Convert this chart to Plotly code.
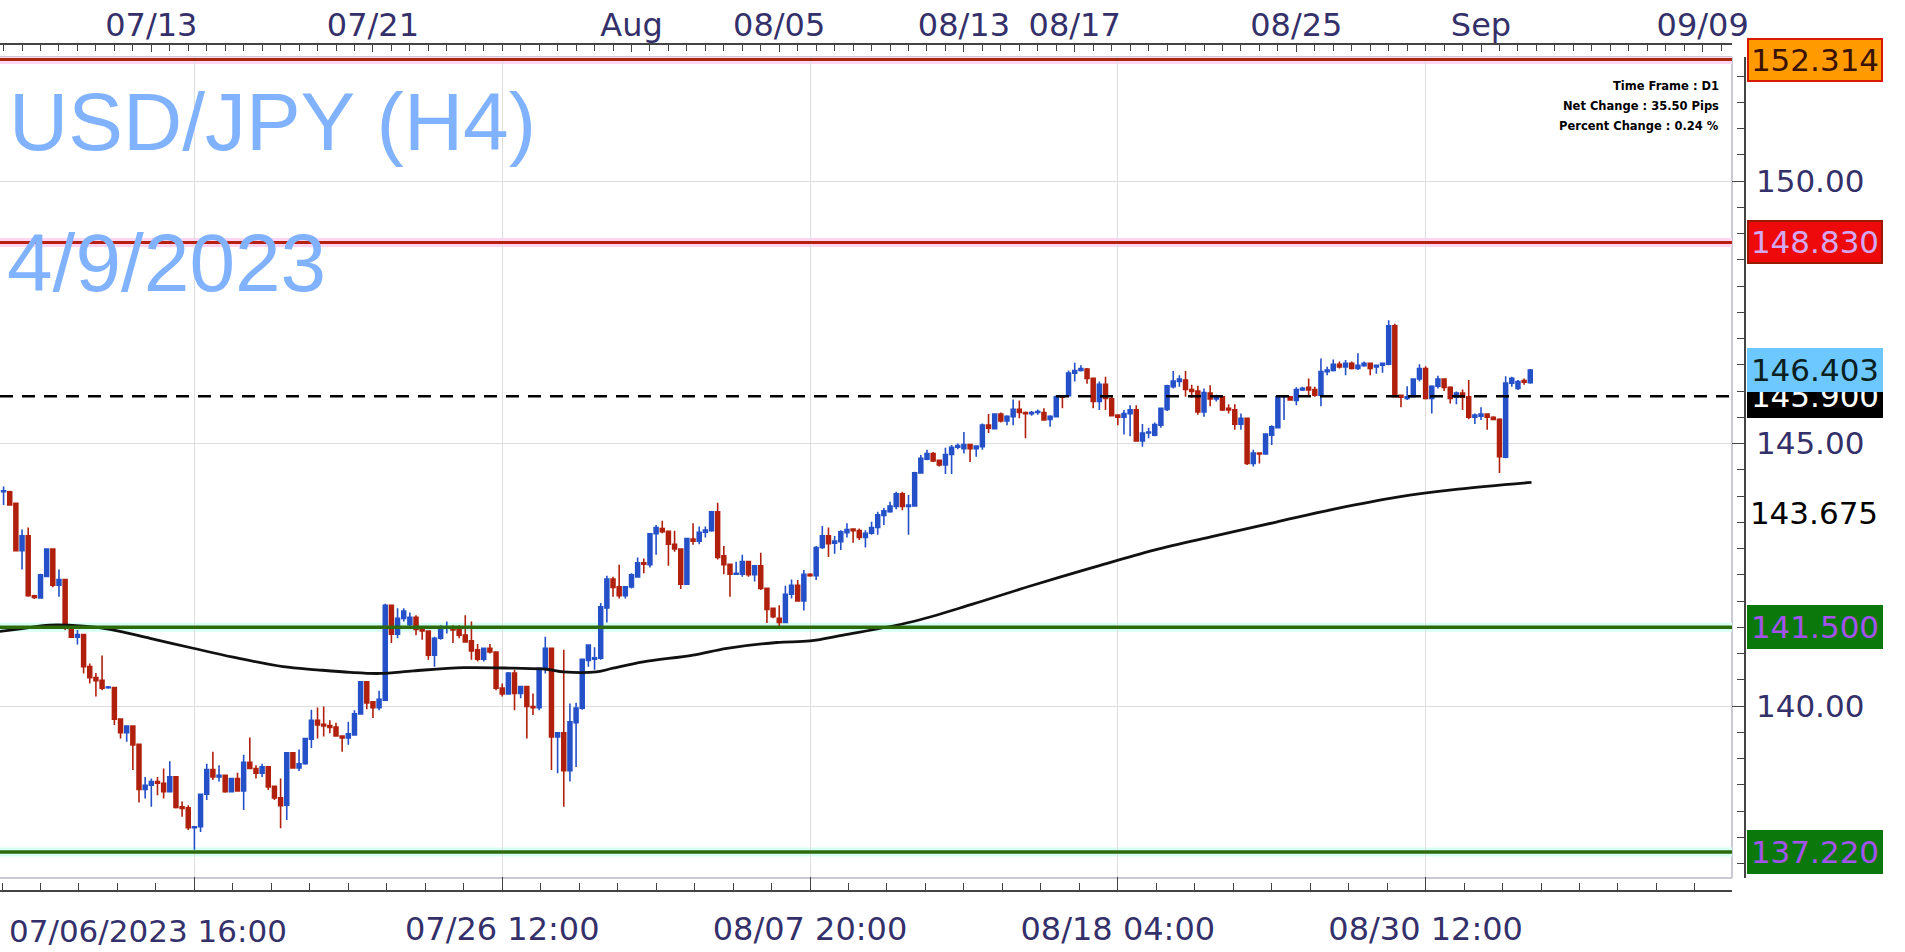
import plotly.graph_objects as go

# ---------------- data (bar index 0 = 07/06/2023 16:00, H4 bars) ----------------
bar_start = 2
opens = [144.08,144.08,143.86,142.96,143.24,142.10,142.06,142.47,142.99,142.30,
         142.41,141.51,141.31,141.36,140.75,140.54,140.49,140.35,140.35,139.75,
         139.49,139.62,139.27,138.41,138.49,138.56,138.53,138.37,138.65,138.08,
         138.06,137.68,137.70,138.32,138.79,138.65,138.68,138.37,138.62,138.38,
         138.93,138.81,138.72,138.84,138.47,138.25,138.11,139.11,138.82,138.90,
         139.37,139.73,139.65,139.63,139.60,139.43,139.39,139.45,139.85,140.46,
         140.08,139.97,140.11,141.92,141.37,141.67,141.55,141.69,141.50,141.43,
         140.97,141.29,141.48,141.51,141.45,141.35,141.24,141.07,140.89,141.10,
         141.03,140.34,140.23,140.63,140.24,140.37,139.99,139.97,140.72,141.10,
         139.41,139.49,138.77,139.68,139.96,140.87,140.89,140.91,141.87,142.42,
         142.27,142.10,142.27,142.46,142.73,142.69,143.28,143.38,143.33,143.08,
         142.99,142.32,143.18,143.14,143.31,143.34,143.70,142.86,142.70,142.51,
         142.51,142.75,142.50,142.67,142.24,141.86,141.67,141.59,142.13,142.30,
         142.00,142.51,142.48,143.02,143.24,143.10,143.13,143.30,143.37,143.34,
         143.21,143.29,143.40,143.63,143.70,143.80,144.04,143.80,143.81,144.44,
         144.70,144.81,144.68,144.59,144.79,144.93,144.90,144.98,144.90,144.94,
         145.35,145.28,145.56,145.43,145.51,145.65,145.59,145.57,145.59,145.59,
         145.46,145.51,145.89,145.91,146.34,146.39,146.42,146.24,145.80,146.13,
         145.85,145.54,145.50,145.57,145.64,145.05,145.20,145.16,145.35,145.65,
         146.08,146.18,146.21,146.03,146.00,145.60,145.96,145.85,145.89,145.67,
         145.64,145.37,145.48,144.62,144.82,144.80,145.16,145.30,145.89,145.89,
         145.82,146.02,146.07,146.03,145.92,146.37,146.39,146.51,146.46,146.53,
         146.43,146.48,146.53,146.46,146.49,146.51,147.24,145.92,145.86,145.89,
         146.23,146.43,145.86,146.09,146.23,146.07,145.88,145.96,145.89,145.50,
         145.52,145.56,145.50,145.46,144.74,146.15,146.05,146.20,146.16]
highs = [144.18,144.10,143.87,143.36,143.40,142.12,142.52,143.00,143.00,142.60,
         142.42,141.52,141.45,141.37,140.81,140.63,140.96,140.38,140.36,139.76,
         139.62,139.63,139.28,138.65,138.62,138.65,138.81,138.95,138.66,138.18,
         138.11,137.70,138.33,138.90,139.13,138.87,138.69,138.63,138.73,139.07,
         139.40,138.87,138.90,138.85,138.48,138.62,139.12,139.12,139.17,139.38,
         139.93,139.97,139.99,139.73,139.68,139.44,139.70,139.92,140.46,140.47,
         140.09,140.29,141.95,141.93,141.86,141.86,141.78,141.73,141.52,141.44,
         141.32,141.54,141.61,141.54,141.54,141.73,141.61,141.18,141.11,141.18,
         141.04,140.43,140.65,140.69,140.37,140.38,140.24,140.72,141.32,141.11,
         139.49,141.07,140.05,140.06,140.89,141.16,141.12,141.96,142.48,142.46,
         142.69,142.28,142.53,142.83,142.81,143.29,143.45,143.53,143.34,143.34,
         143.00,143.20,143.48,143.42,143.42,143.71,143.87,143.05,142.71,142.75,
         142.88,142.76,142.67,142.92,142.25,141.87,141.92,142.29,142.41,142.40,
         142.59,142.53,143.05,143.43,143.40,143.24,143.35,143.48,143.38,143.38,
         143.35,143.51,143.70,143.77,143.89,144.08,144.08,144.02,144.46,144.78,
         144.88,144.84,144.69,144.92,144.97,145.00,145.22,144.99,144.96,145.38,
         145.56,145.57,145.59,145.54,145.84,145.82,145.61,145.62,145.65,145.67,
         145.54,145.92,145.91,146.39,146.54,146.49,146.44,146.25,146.18,146.27,
         145.89,145.55,145.64,145.73,145.73,145.37,145.30,145.40,145.68,146.12,
         146.38,146.30,146.38,146.12,146.10,146.05,146.11,145.93,145.90,145.75,
         145.75,145.57,145.49,144.88,144.83,145.19,145.35,145.90,145.91,145.90,
         146.07,146.08,146.24,146.08,146.62,146.46,146.60,146.56,146.59,146.56,
         146.72,146.56,146.54,146.50,146.54,147.35,147.28,145.93,146.09,146.24,
         146.51,146.47,146.11,146.29,146.24,146.09,145.99,146.03,146.21,145.57,
         145.69,145.57,145.52,145.48,146.28,146.27,146.21,146.24,146.42]
lows = [143.83,143.82,142.95,142.60,142.08,142.04,142.05,142.46,142.26,142.08,
        141.45,141.30,141.17,140.62,140.43,140.18,140.30,140.33,139.64,139.38,
        139.32,138.78,138.16,138.24,138.08,138.30,138.24,138.36,138.05,137.89,
        137.64,137.26,137.60,138.21,138.59,138.56,138.35,138.36,138.37,138.02,
        138.80,138.62,138.65,138.40,138.21,137.67,137.83,138.81,138.76,138.88,
        139.20,139.38,139.42,139.48,139.42,139.13,139.26,139.44,139.84,139.94,
        139.77,139.92,140.10,141.20,141.29,141.61,141.52,141.35,141.26,140.88,
        140.75,141.26,141.38,141.20,141.29,141.21,140.88,140.85,140.85,141.00,
        140.30,140.18,140.22,139.92,140.15,139.38,139.83,139.92,140.62,138.78,
        138.72,138.08,138.56,138.84,139.93,140.75,140.69,140.88,141.59,142.08,
        142.05,142.05,142.24,142.45,142.53,142.64,142.88,143.29,142.67,142.94,
        142.23,142.31,143.07,143.08,143.21,143.32,142.79,142.51,142.08,142.50,
        142.46,142.46,142.37,142.21,141.58,141.67,141.51,141.58,142.05,141.99,
        141.82,142.46,142.40,142.99,142.84,142.90,142.97,143.21,143.11,143.16,
        143.02,143.26,143.26,143.45,143.68,143.75,143.73,143.26,143.80,144.43,
        144.68,144.65,144.56,144.42,144.42,144.89,144.81,144.65,144.75,144.88,
        145.20,145.27,145.40,145.35,145.35,145.48,145.10,145.53,145.55,145.44,
        145.32,145.50,145.67,145.89,146.18,146.37,146.14,145.67,145.64,145.64,
        145.52,145.35,145.17,145.14,145.04,144.94,145.10,145.14,145.30,145.62,
        146.05,146.08,145.89,145.87,145.55,145.51,145.71,145.80,145.62,145.57,
        145.26,145.26,144.59,144.56,144.62,144.79,144.97,145.29,145.45,145.82,
        145.73,146.00,145.89,145.89,145.71,146.30,146.37,146.43,146.30,146.41,
        146.40,146.46,146.30,146.33,146.35,146.49,145.88,145.69,145.83,145.88,
        146.18,145.84,145.57,146.05,146.00,145.76,145.75,145.64,145.46,145.37,
        145.45,145.26,145.45,144.44,144.72,146.08,146.02,146.12,146.14]
closes = [144.10,143.83,142.96,143.24,142.10,142.07,142.50,142.99,142.30,142.41,
          141.54,141.31,141.36,140.75,140.54,140.48,140.34,140.36,139.75,139.49,
          139.62,139.26,138.41,138.49,138.56,138.53,138.37,138.65,138.07,138.05,
          137.68,137.70,138.32,138.79,138.65,138.68,138.37,138.62,138.38,138.93,
          138.81,138.72,138.84,138.46,138.25,138.10,139.11,138.82,138.90,139.38,
          139.73,139.64,139.62,139.59,139.43,139.39,139.47,139.85,140.46,140.06,
          139.97,140.13,141.92,141.37,141.67,141.81,141.69,141.46,141.43,140.97,
          141.29,141.50,141.51,141.45,141.35,141.22,141.05,140.89,141.10,141.03,
          140.34,140.23,140.63,140.24,140.37,139.99,139.97,140.72,141.10,139.41,
          139.49,138.77,139.70,139.96,140.89,141.16,140.92,141.89,142.42,142.26,
          142.10,142.27,142.50,142.73,142.70,143.28,143.40,143.32,143.08,142.99,
          142.32,143.19,143.14,143.31,143.35,143.70,142.83,142.69,142.51,142.53,
          142.75,142.50,142.67,142.24,141.84,141.70,141.59,142.13,142.30,142.00,
          142.51,142.48,143.02,143.24,143.09,143.14,143.32,143.36,143.34,143.21,
          143.29,143.40,143.64,143.72,143.81,144.04,143.80,143.83,144.44,144.72,
          144.81,144.67,144.59,144.79,144.93,144.96,144.98,144.90,144.95,145.35,
          145.29,145.56,145.43,145.52,145.65,145.59,145.57,145.59,145.61,145.45,
          145.52,145.89,145.88,146.34,146.39,146.43,146.24,145.80,146.13,145.86,
          145.53,145.50,145.57,145.64,145.05,145.20,145.22,145.36,145.67,146.10,
          146.19,146.23,146.03,145.99,145.60,145.97,145.85,145.89,145.64,145.64,
          145.37,145.48,144.62,144.82,144.80,145.18,145.32,145.89,145.90,145.83,
          146.03,146.05,146.02,145.92,146.37,146.40,146.51,146.46,146.53,146.43,
          146.49,146.53,146.43,146.49,146.53,147.24,145.89,145.88,145.89,146.23,
          146.43,145.86,146.09,146.23,146.07,145.86,145.96,145.88,145.50,145.54,
          145.56,145.50,145.46,144.75,146.15,146.24,146.18,146.17,146.40]
bars = list(range(bar_start, bar_start + len(opens)))

# moving average read at a set of bar positions
ma_bars = [1.4, 4.7, 9.5, 15, 19.3, 25.8, 32.8, 39.3, 47.4, 52.9, 58.3, 63.2, 68.6,
           76.7, 84.8, 90.2, 93, 98.3, 101, 105.9, 114, 119.5, 127.6, 133, 138.4,
           149.4, 159.4, 169.2, 179.0, 188.9, 198.8, 208.6, 218.5, 228.4, 238.3, 250.2]
ma_values = [141.42, 141.47, 141.54, 141.52, 141.46, 141.29, 141.10, 140.93, 140.75,
             140.69, 140.64, 140.62, 140.67, 140.73, 140.72, 140.70, 140.65, 140.65,
             140.72, 140.84, 140.97, 141.10, 141.21, 141.24, 141.35, 141.60, 141.94,
             142.30, 142.64, 142.97, 143.24, 143.50, 143.76, 143.98, 144.13, 144.26]

bottom_tick_bars = [33, 83, 133, 183, 233]
bottom_tick_labels = ["", "07/26 12:00", "08/07 20:00", "08/18 04:00", "08/30 12:00"]
first_bar_label = "07/06/2023 16:00"
top_tick_bars = [26, 62, 104, 128, 158, 176, 212, 242, 278]
top_tick_labels = ["07/13", "07/21", "Aug", "08/05", "08/13", "08/17", "08/25", "Sep", "09/09"]
marker_bars = [8, 26, 38, 62, 74, 98, 104, 128, 140, 158, 176, 188, 212, 224, 242, 254, 278]

resistance_2 = 152.314
resistance_1 = 148.830
pivot_level = 145.900
support_1 = 141.500
support_2 = 137.220
last_price = 146.403
ma_level = 143.675

title_text = "USD/JPY (H4)"
date_text = "4/9/2023"
info_lines = ["Time Frame : D1", "Net Change : 35.50 Pips", "Percent Change : 0.24 %"]

# ---------------- layout geometry (pixels) ----------------
W, H = 1905, 952
PX0, PX1 = 0, 1732          # inner plot area
PY0, PY1 = 57, 878
YAX_X = 1745                # right price axis line
TOPAX_Y = 44
BOTAX_Y = 891
X_RANGE = [1.42, 282.77]
Y_RANGE = [136.724, 152.362]

def px(x):
    return x / W

def py(y):
    return 1 - y / H

def price_at(y):
    return Y_RANGE[1] - (y - PY0) / (PY1 - PY0) * (Y_RANGE[1] - Y_RANGE[0])

NAVY = "#34306a"
FONT = "DejaVu Sans"
UP = "#2450c8"
DOWN = "#b0200c"

fig = go.Figure()

fig.add_trace(go.Candlestick(
    x=bars, open=opens, high=highs, low=lows, close=closes,
    increasing=dict(line=dict(color=UP, width=1.6), fillcolor=UP),
    decreasing=dict(line=dict(color=DOWN, width=1.6), fillcolor=DOWN),
    whiskerwidth=0, showlegend=False, hoverinfo="skip",
))

fig.add_trace(go.Scatter(
    x=ma_bars, y=ma_values, mode="lines",
    line=dict(color="#111111", width=2.8, shape="spline"),
    showlegend=False, hoverinfo="skip",
))

# yellow markers on top time axis
fig.add_trace(go.Scatter(
    x=marker_bars, y=[price_at(49)] * len(marker_bars),
    xaxis="x2", yaxis="y", mode="markers",
    marker=dict(symbol="triangle-down", size=9, color="#c9b300"),
    cliponaxis=False, showlegend=False, hoverinfo="skip",
))

shapes = []
# inner frame (top, bottom, right edges)
FRAME = dict(color="#c9c9d6", width=2)
shapes.append(dict(type="line", xref="paper", yref="paper", x0=px(PX0), x1=px(PX1),
                   y0=py(PY0), y1=py(PY0), line=FRAME, layer="below"))
shapes.append(dict(type="line", xref="paper", yref="paper", x0=px(PX0), x1=px(PX1),
                   y0=py(PY1), y1=py(PY1), line=FRAME, layer="below"))
shapes.append(dict(type="line", xref="paper", yref="paper", x0=px(PX1), x1=px(PX1),
                   y0=py(PY1), y1=py(PY0), line=FRAME, layer="below"))
# horizontal levels
level_styles = [
    (resistance_2, "#a8280e", 3, "#ffd6f2"),
    (resistance_1, "#b8200f", 3, "#ffd6f2"),
    (support_1, "#2d6a0c", 3.5, "#d6fff6"),
    (support_2, "#2d6a0c", 3.5, "#d6fff6"),
]
for val, col, w, halo in level_styles:
    shapes.append(dict(type="line", xref="paper", yref="y", x0=px(PX0), x1=px(PX1),
                       y0=val, y1=val, line=dict(color=halo, width=9), layer="below"))
    shapes.append(dict(type="line", xref="paper", yref="y", x0=px(PX0), x1=px(PX1),
                       y0=val, y1=val, line=dict(color=col, width=w)))
shapes.append(dict(type="line", xref="paper", yref="y", x0=px(PX0), x1=px(PX1),
                   y0=pivot_level, y1=pivot_level,
                   line=dict(color="#000000", width=2.5, dash="13px,9px")))

annotations = []
# price label boxes on the right axis
boxes = [
    (resistance_2, "#ff9a00", "#3a1200", "#d81a00"),
    (resistance_1, "#ee0a0a", "#d4a8f0", "#9a1a00"),
    (support_1, "#0b780b", "#a452ee", "#0b780b"),
    (support_2, "#0b780b", "#a452ee", "#0b780b"),
    (pivot_level, "#000000", "#ffffff", "#000000"),
    (last_price, "#6cc8ff", "#0a2020", "#6cc8ff"),
]
for val, bg, fg, border in boxes:
    annotations.append(dict(
        xref="paper", yref="y", x=px(YAX_X + 2), y=val, xanchor="left", yanchor="middle",
        text=f"{val:.3f}", showarrow=False, font=dict(family=FONT, size=31, color=fg),
        bgcolor=bg, bordercolor=border, borderwidth=2, width=130, height=38,
        borderpad=1, align="center"))
annotations.append(dict(
    xref="paper", yref="y", x=px(YAX_X + 2), y=ma_level, xanchor="left", yanchor="middle",
    text=f"{ma_level:.3f}", showarrow=False, font=dict(family=FONT, size=31, color="#000000"),
    width=130, height=38, borderpad=1, align="center"))

# info text top-right
for k, line in enumerate(info_lines):
    annotations.append(dict(
        xref="paper", yref="paper", x=px(1721), y=py(86 + 20 * k),
        xanchor="right", yanchor="middle", text=f"<b>{line}</b>", showarrow=False,
        font=dict(family=FONT, size=11.5, color="#000000")))

# big watermark title
annotations.append(dict(
    xref="paper", yref="paper", x=px(538), y=py(122), xanchor="right", yanchor="middle",
    text=title_text, showarrow=False,
    font=dict(family="Liberation Sans, Arial", size=82, color="#80b2ff")))
annotations.append(dict(
    xref="paper", yref="paper", x=px(328), y=py(262), xanchor="right", yanchor="middle",
    text=date_text, showarrow=False,
    font=dict(family="Liberation Sans, Arial", size=82, color="#80b2ff")))

# first bottom label
annotations.append(dict(
    xref="paper", yref="paper", x=px(289), y=py(931), xanchor="right", yanchor="middle",
    text=first_bar_label, showarrow=False, font=dict(family=FONT, size=31, color=NAVY)))

fig.update_layout(
    template="none",
    width=W, height=H,
    margin=dict(l=0, r=0, t=0, b=0, pad=0),
    paper_bgcolor="#ffffff", plot_bgcolor="#ffffff",
    showlegend=False,
    boxgap=0.1,
    shapes=shapes, annotations=annotations,
    xaxis=dict(
        domain=[px(PX0), px(PX1)], range=X_RANGE, anchor="free", position=py(BOTAX_Y),
        side="bottom", rangeslider=dict(visible=False), automargin=False,
        showline=True, linecolor="#444444", linewidth=1.5,
        tickmode="array", tickvals=bottom_tick_bars, ticktext=bottom_tick_labels,
        ticks="inside", ticklen=13, tickcolor="#444444", tickwidth=1.2,
        tickfont=dict(family=FONT, size=32, color=NAVY), ticklabelstandoff=10,
        showgrid=True, gridcolor="#dedede", gridwidth=1, zeroline=False,
        minor=dict(tickmode="linear", tick0=33, dtick=6.25, ticks="inside", ticklen=7,
                   tickcolor="#444444", showgrid=False),
    ),
    xaxis2=dict(
        overlaying="x", matches="x", range=X_RANGE, anchor="free", position=py(TOPAX_Y),
        side="top", showline=True, linecolor="#444444", linewidth=1.5, automargin=False,
        tickmode="array", tickvals=top_tick_bars, ticktext=top_tick_labels,
        ticks="inside", ticklen=7, tickcolor="#444444",
        tickfont=dict(family=FONT, size=32, color=NAVY), ticklabelstandoff=-6,
        showgrid=False, zeroline=False,
        minor=dict(tickmode="linear", tick0=2, dtick=3, ticks="inside", ticklen=6,
                   tickcolor="#444444", showgrid=False),
    ),
    yaxis=dict(
        domain=[py(PY1), py(PY0)], range=Y_RANGE, side="right", anchor="free",
        position=px(YAX_X), showline=True, linecolor="#444444", linewidth=1.5,
        automargin=False,
        tick0=0, dtick=5, tickformat=".2f", ticks="inside", ticklen=12,
        tickcolor="#444444", tickfont=dict(family=FONT, size=31, color=NAVY),
        ticklabelstandoff=4,
        showgrid=True, gridcolor="#dedede", gridwidth=1, zeroline=False,
        minor=dict(tick0=0, dtick=0.5, ticks="inside", ticklen=7, tickcolor="#444444",
                   showgrid=False),
    ),
)

# remove the browser's default 8px page margin so the figure sits at the top-left corner
fig.write_html("out.html", config={"displayModeBar": False},
               post_script="document.body.style.margin='0px';")
